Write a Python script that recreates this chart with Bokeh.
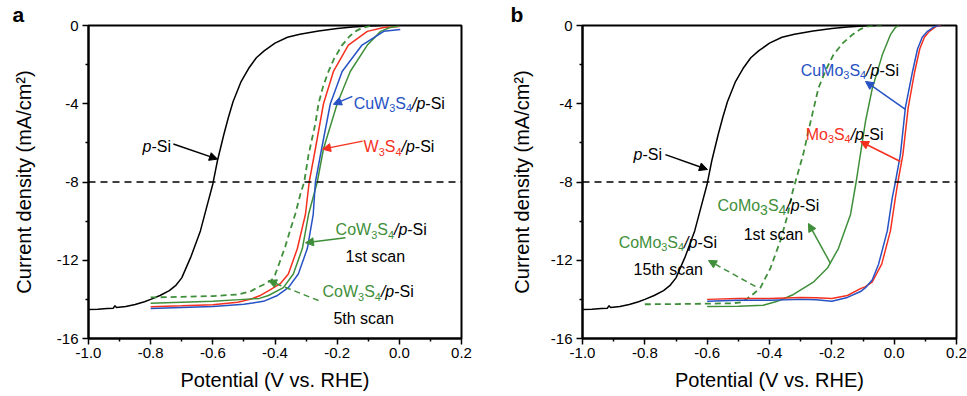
from bokeh.plotting import figure
from bokeh.models import Range1d, FixedTicker, Span, Label, Arrow, NormalHead
from bokeh.layouts import row
from bokeh.embed import file_html
from bokeh.resources import INLINE

FONT = "Liberation Sans"
BLACK = "#000000"
BLUE = "#2652c4"
RED = "#f5301e"
GREEN = "#3f8f3a"

# ---------------- data ----------------
x_ticks = [-1.0, -0.8, -0.6, -0.4, -0.2, 0.0, 0.2]
x_tick_labels = ["-1.0", "-0.8", "-0.6", "-0.4", "-0.2", "0.0", "0.2"]
x_minor = [-0.9, -0.7, -0.5, -0.3, -0.1, 0.1]
y_ticks = [0, -4, -8, -12, -16]
y_tick_labels = ["0", "-4", "-8", "-12", "-16"]
y_minor = [-2, -6, -10, -14]
ref_current = -8

# bare p-Si (same in both panels)
psi_v = [-1.0, -0.97, -0.94, -0.92, -0.915, -0.91, -0.88, -0.85, -0.82, -0.80, -0.77, -0.74,
         -0.72, -0.70, -0.67, -0.64, -0.62, -0.60, -0.585, -0.565, -0.55, -0.535, -0.51,
         -0.485, -0.46, -0.435, -0.40, -0.36, -0.32, -0.26, -0.20, -0.15, -0.10, -0.06]
psi_j = [-14.52, -14.5, -14.47, -14.45, -14.32, -14.42, -14.36, -14.26, -14.12, -14.0, -13.8,
         -13.55, -13.3, -12.9, -11.8, -10.5, -9.3, -8.1, -6.9, -5.6, -4.7, -3.9, -2.9, -2.2,
         -1.65, -1.3, -0.9, -0.6, -0.45, -0.28, -0.15, -0.08, -0.03, 0.0]

# panel a
cow5_v = [-0.80, -0.70, -0.60, -0.52, -0.48, -0.457, -0.43, -0.41, -0.40, -0.385, -0.367, -0.35,
          -0.334, -0.318, -0.306, -0.292, -0.27, -0.26, -0.245, -0.228, -0.21, -0.184, -0.16,
          -0.141, -0.12, -0.10, -0.083]
cow5_j = [-13.9, -13.87, -13.83, -13.75, -13.6, -13.4, -13.2, -13.0, -12.75, -12.1, -11.3, -10.4,
          -9.6, -8.6, -8.0, -6.6, -5.0, -4.0, -3.1, -2.35, -1.7, -1.0, -0.55, -0.3, -0.12, -0.04, 0.0]

w3s4_v = [-0.80, -0.70, -0.60, -0.52, -0.48, -0.447, -0.42, -0.383, -0.357, -0.328, -0.302,
          -0.29, -0.27, -0.244, -0.212, -0.164, -0.103, -0.05, 0.0]
w3s4_j = [-14.38, -14.33, -14.27, -14.15, -14.0, -13.8, -13.55, -13.2, -12.7, -11.4, -9.65,
          -8.0, -6.3, -4.0, -2.35, -1.0, -0.3, -0.1, -0.05]

cuw_v = [-0.80, -0.70, -0.60, -0.50, -0.437, -0.392, -0.357, -0.325, -0.296, -0.277, -0.27,
         -0.25, -0.222, -0.184, -0.12, -0.05, 0.003]
cuw_j = [-14.47, -14.42, -14.37, -14.25, -14.1, -13.8, -13.4, -12.7, -11.4, -9.65, -8.0,
         -6.3, -4.0, -2.35, -1.0, -0.3, -0.2]

cow1_v = [-0.80, -0.70, -0.60, -0.50, -0.45, -0.421, -0.373, -0.341, -0.312, -0.292, -0.264,
          -0.244, -0.20, -0.158, -0.103, -0.06, -0.03, 0.0]
cow1_j = [-14.2, -14.15, -14.1, -14.0, -13.95, -13.8, -13.4, -12.7, -11.4, -9.65, -8.0,
          -6.3, -4.0, -2.35, -1.0, -0.3, -0.1, -0.02]

# panel b
como15_v = [-0.80, -0.70, -0.60, -0.52, -0.49, -0.471, -0.45, -0.429, -0.397, -0.365, -0.342,
            -0.326, -0.317, -0.292, -0.268, -0.243, -0.22, -0.195, -0.165, -0.134, -0.11,
            -0.086, -0.06, -0.04]
como15_j = [-14.25, -14.24, -14.22, -14.2, -14.15, -13.95, -13.7, -13.4, -12.4, -11.0, -9.7,
            -8.5, -8.0, -6.6, -4.9, -3.2, -2.3, -1.5, -0.9, -0.47, -0.2, -0.05, 0.0, 0.0]

como1_v = [-0.60, -0.50, -0.42, -0.375, -0.323, -0.258, -0.214, -0.179, -0.14, -0.122,
           -0.092, -0.07, -0.038, -0.012, 0.004, 0.015]
como1_j = [-14.37, -14.35, -14.3, -14.1, -13.75, -13.1, -12.4, -11.4, -9.66, -8.0,
           -4.9, -3.2, -1.5, -0.47, -0.1, 0.0]

cumo_v = [-0.60, -0.50, -0.40, -0.30, -0.25, -0.20, -0.15, -0.108, -0.092, -0.07, -0.05,
          -0.022, -0.006, 0.004, 0.02, 0.036, 0.059, 0.075, 0.09, 0.107, 0.13, 0.148]
cumo_j = [-14.1, -14.05, -14.05, -14.0, -14.02, -14.1, -13.9, -13.6, -13.4, -13.0, -12.2,
          -10.5, -8.8, -8.0, -6.6, -4.2, -2.35, -1.2, -0.6, -0.3, -0.05, 0.0]

mo3s4_v = [-0.60, -0.50, -0.40, -0.30, -0.25, -0.20, -0.15, -0.108, -0.092, -0.07, -0.04,
           -0.012, 0.004, 0.012, 0.028, 0.045, 0.066, 0.082, 0.097, 0.113, 0.135, 0.15]
mo3s4_j = [-14.0, -13.95, -13.95, -13.9, -13.92, -13.95, -13.8, -13.45, -13.35, -13.1, -12.2,
           -10.5, -8.8, -8.0, -6.6, -4.2, -2.35, -1.2, -0.6, -0.3, -0.05, 0.0]

# ---------------- helpers ----------------
WID = {'C': .722, 'u': .556, 'W': .944, 'S': .667, '/': .278, 'p': .556, '-': .333, 'i': .222,
       'M': .833, 'o': .556, '1': .556, 's': .5, 't': .278, ' ': .278, 'c': .5, 'a': .556,
       'n': .556, 'h': .556, '5': .556, '3': .556, '4': .556}


def tw(s, size):
    return sum(WID.get(ch, 0.556) for ch in s) * size


def rich(p, x, y, segs, size=16, sub_size=None):
    sub_size = sub_size or size * 0.68
    off = 0.0
    for txt, col, style, sub in segs:
        fs = sub_size if sub else size
        yo = -0.36 * size - (0.32 * size if sub else 0)
        p.add_layout(Label(x=x, y=y, x_offset=off, y_offset=yo, text=txt, text_color=col,
                           text_font=FONT, text_font_size=f"{fs:.1f}px", text_font_style=style,
                           text_baseline="alphabetic", text_align="left"))
        off += tw(txt, fs)


def compound(parts, col):
    segs = [(t, col, "normal", s) for t, s in parts]
    segs += [("/p", BLACK, "italic", False), ("-Si", BLACK, "normal", False)]
    return segs


def arrow(p, x0, y0, x1, y1, col, dash="solid"):
    p.add_layout(Arrow(end=NormalHead(size=8, fill_color=col, line_color=col, line_width=1),
                       x_start=x0, y_start=y0, x_end=x1, y_end=y1,
                       line_color=col, line_width=1.5, line_dash=dash))


def make_fig(width, left, right, letter, loff, ystand):
    p = figure(width=width, height=396, x_range=Range1d(-1.0, 0.2), y_range=Range1d(-16, 0),
               output_backend="svg", toolbar_location=None,
               min_border_left=left, min_border_right=right, min_border_top=24,
               min_border_bottom=58, title=letter)
    p.title.text_font = FONT
    p.title.text_font_size = "21px"
    p.title.text_font_style = "bold"
    p.title.text_color = "black"
    p.title.align = "left"
    p.title.offset = loff
    p.title.standoff = 0
    p.xgrid.visible = False
    p.ygrid.visible = False
    p.outline_line_color = "black"
    p.outline_line_width = 2
    p.background_fill_color = "white"
    p.border_fill_color = "white"
    p.xaxis.ticker = FixedTicker(ticks=x_ticks, minor_ticks=x_minor)
    p.xaxis.major_label_overrides = dict(zip(x_ticks, x_tick_labels))
    p.yaxis.ticker = FixedTicker(ticks=y_ticks, minor_ticks=y_minor)
    p.yaxis.major_label_overrides = dict(zip(y_ticks, y_tick_labels))
    for ax in (p.xaxis[0], p.yaxis[0]):
        ax.axis_line_width = 2
        ax.major_tick_line_width = 1.5
        ax.minor_tick_line_width = 1.5
        ax.major_tick_out = 6
        ax.major_tick_in = 0
        ax.minor_tick_out = 3
        ax.minor_tick_in = 0
        ax.major_label_text_font = FONT
        ax.major_label_text_font_size = "15px"
        ax.major_label_text_color = "black"
        ax.axis_label_text_font = FONT
        ax.axis_label_text_font_size = "20px"
        ax.axis_label_text_line_height = 1.0
        ax.axis_label_text_font_style = "normal"
        ax.axis_label_text_color = "black"
    p.xaxis.axis_label = "Potential (V vs. RHE)"
    p.yaxis.axis_label = "Current density (mA/cm²)"
    p.xaxis.major_label_standoff = 3
    p.xaxis.axis_label_standoff = 8
    p.yaxis.major_label_standoff = 4
    p.yaxis.axis_label_standoff = ystand
    p.add_layout(Span(location=ref_current, dimension="width", line_color="black",
                      line_width=1.5, line_dash="7 5"))
    return p


# ---------------- panel a ----------------
pa = make_fig(480, 88, 19, "a", -76, 19)
pa.line(psi_v, psi_j, line_color=BLACK, line_width=1.5)
pa.line(cow5_v, cow5_j, line_color=GREEN, line_width=1.8, line_dash="6 4")
pa.line(w3s4_v, w3s4_j, line_color=RED, line_width=1.5)
pa.line(cow1_v, cow1_j, line_color=GREEN, line_width=1.5)
pa.line(cuw_v, cuw_j, line_color=BLUE, line_width=1.5)

rich(pa, -0.826, -5.91, [("p", BLACK, "italic", False), ("-Si", BLACK, "normal", False)])
arrow(pa, -0.727, -6.06, -0.585, -6.83, BLACK)
rich(pa, -0.147, -3.67, compound([("CuW", False), ("3", True), ("S", False), ("4", True)], BLUE))
arrow(pa, -0.151, -3.62, -0.212, -4.03, BLUE)
rich(pa, -0.115, -5.91, compound([("W", False), ("3", True), ("S", False), ("4", True)], RED))
arrow(pa, -0.118, -5.91, -0.247, -6.32, RED)
rich(pa, -0.205, -10.14, compound([("CoW", False), ("3", True), ("S", False), ("4", True)], GREEN))
rich(pa, -0.173, -11.52, [("1st scan", BLACK, "normal", False)])
arrow(pa, -0.173, -10.85, -0.302, -11.11, GREEN)
rich(pa, -0.247, -13.3, compound([("CoW", False), ("3", True), ("S", False), ("4", True)], GREEN))
rich(pa, -0.212, -14.68, [("5th scan", BLACK, "normal", False)])
arrow(pa, -0.26, -14.06, -0.421, -13.04, GREEN, dash="6 4")

# ---------------- panel b ----------------
pb = make_fig(487, 102, 11, "b", -72, 15)
pb.line(psi_v, psi_j, line_color=BLACK, line_width=1.5)
pb.line(como15_v, como15_j, line_color=GREEN, line_width=1.8, line_dash="6 4")
pb.line(como1_v, como1_j, line_color=GREEN, line_width=1.5)
pb.line(mo3s4_v, mo3s4_j, line_color=RED, line_width=1.5)
pb.line(cumo_v, cumo_j, line_color=BLUE, line_width=1.5)

rich(pb, -0.836, -6.29, [("p", BLACK, "italic", False), ("-Si", BLACK, "normal", False)])
arrow(pb, -0.734, -6.6, -0.599, -7.36, BLACK)
rich(pb, -0.30, -1.99, compound([("CuMo", False), ("3", True), ("S", False), ("4", True)], BLUE))
arrow(pb, 0.036, -4.29, -0.092, -2.86, BLUE)
rich(pb, -0.284, -5.27, compound([("Mo", False), ("3", True), ("S", False), ("4", True)], RED))
arrow(pb, 0.02, -6.95, -0.108, -5.93, RED)
rich(pb, -0.567, -8.9, compound([("CoMo", False), ("3", True), ("S", False), ("4", True)], GREEN),
     sub_size=14)
rich(pb, -0.483, -10.38, [("1st scan", BLACK, "normal", False)])
arrow(pb, -0.204, -12.17, -0.275, -10.12, GREEN)
rich(pb, -0.884, -10.79, compound([("CoMo", False), ("3", True), ("S", False), ("4", True)], GREEN))
rich(pb, -0.836, -12.17, [("15th scan", BLACK, "normal", False)])
arrow(pb, -0.445, -13.34, -0.596, -12.01, GREEN, dash="6 4")

layout = row(pa, pb)
open("out.html", "w").write(file_html(layout, INLINE))
